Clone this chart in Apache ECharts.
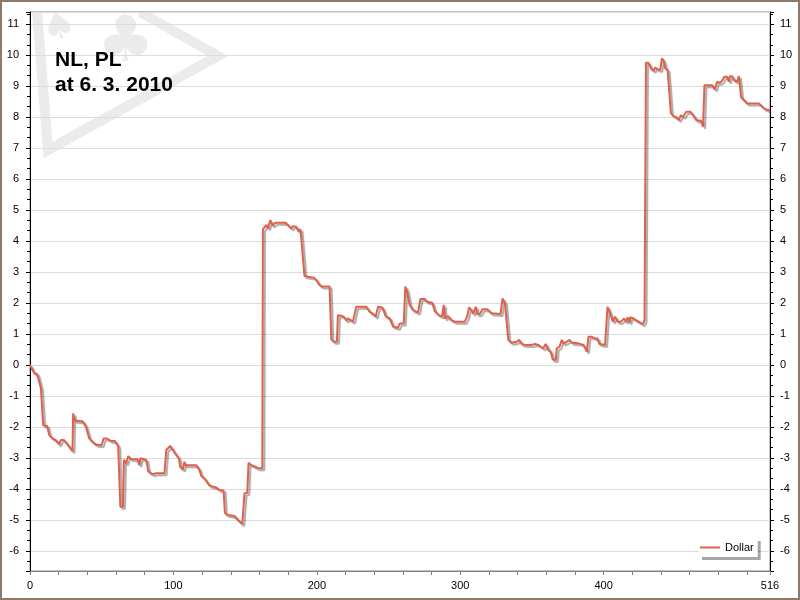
<!DOCTYPE html>
<html>
<head>
<meta charset="utf-8">
<script src="https://cdn.jsdelivr.net/npm/echarts@6/dist/echarts.min.js"></script>
<style>html,body{margin:0;padding:0;background:#fff;}#c{width:800px;height:600px;}</style>
</head>
<body>
<div id="c"></div>
<script>
// ---- data ----
const seriesName = 'Dollar';
const titleLine1 = 'NL, PL';
const titleLine2 = 'at 6. 3. 2010';
const xTickLabels = [0, 100, 200, 300, 400, 516];
const xs = [0,3,5,7.6,9.2,12,13.4,15.7,18,20.3,21.5,23.8,26,29.6,30.1,31.3,36.6,39,41.3,44.8,47,50,51.3,53.6,56,59.2,61.5,62.7,63,64.8,65.5,67,68.5,70.4,75,76.2,77,79.7,81.1,82.5,85.5,88,93.8,95,96.1,97.7,99.6,101.9,103.8,104.7,106.6,107.7,108.4,108.9,115.9,118.2,119.4,121.7,125.2,129.8,132.2,135,135.9,138,142.6,145,148,149.6,151.5,152.4,154.3,157.3,158.9,162,162.4,163.6,164.8,165.9,167.6,169,171.2,178.2,179.8,182.1,183.3,185.6,187.5,188.6,189.8,191.4,193.8,198,199.6,201.9,203.8,208.9,210.1,211.9,214,214.7,217.8,219.4,220.6,221.7,222.9,225.2,227.5,234.5,236.8,239.2,241,242.7,245.7,248.1,250.8,253.1,256.6,257.8,260.6,261.7,262.9,264.7,267.1,270.6,271.7,272.2,275.2,277,280.5,282.2,285,287.3,288.5,289.3,291.5,293.8,296.2,303.2,304.8,306.2,307.8,309,310.9,311.8,313.7,315.5,318.8,321.8,328.1,329.5,331.2,332.3,333.5,335.8,339.3,341.2,342.8,345.1,349.8,352.1,354.4,356.3,357.9,359.6,361.4,363.1,364.5,366.6,367.3,369.2,370.8,372,374.3,376.2,377.8,382.5,383.6,386,387.1,388.3,389.4,391.8,394.1,395.7,397.1,401,402.7,404.5,406.4,408,409.7,412,414.3,415.7,416.7,418.1,418.5,420.9,423.2,425.5,427.4,428.5,429.5,431.3,433,434.8,436,437.6,439.5,440.6,441.8,443,444.6,445.3,446.9,448.8,451.1,452.3,453.9,455.3,457.7,460.5,462.8,464.7,467.9,469.3,470.3,473.3,474.5,475.6,477.5,479.1,481,482.6,484.2,486.1,487.3,488,489.6,490.8,492,493.1,494.3,495.9,497.8,500.1,502.4,508.3,509.4,511.8,514.1,516];
const ys = [0,-0.27,-0.29,-0.75,-1.94,-1.97,-2.26,-2.37,-2.42,-2.56,-2.42,-2.42,-2.55,-2.78,-1.56,-1.8,-1.81,-1.99,-2.37,-2.53,-2.58,-2.58,-2.37,-2.37,-2.44,-2.45,-2.63,-2.69,-4.57,-4.57,-3.06,-3.17,-2.94,-3.03,-3.04,-3.23,-3.01,-3.04,-3.06,-3.44,-3.52,-3.49,-3.49,-2.74,-2.74,-2.61,-2.74,-2.9,-3.01,-3.28,-3.37,-3.12,-3.23,-3.2,-3.23,-3.39,-3.58,-3.66,-3.89,-3.95,-4.03,-4.05,-4.78,-4.84,-4.87,-5.0,-5.13,-4.14,-4.12,-3.15,-3.23,-3.28,-3.33,-3.33,4.38,4.41,4.52,4.41,4.68,4.5,4.59,4.59,4.52,4.41,4.48,4.46,4.3,4.38,4.35,2.87,2.85,2.82,2.74,2.58,2.53,2.53,0.83,0.75,0.75,1.61,1.58,1.53,1.43,1.51,1.45,1.4,1.88,1.88,1.72,1.65,1.56,1.88,1.86,1.56,1.51,1.24,1.2,1.34,1.34,2.53,2.37,1.94,1.77,1.69,1.65,2.13,2.13,2.04,2.01,1.74,1.61,1.57,1.94,1.5,1.58,1.45,1.4,1.4,1.56,1.86,1.77,1.65,1.88,1.65,1.65,1.8,1.8,1.67,1.65,2.15,1.99,1.94,0.81,0.72,0.75,0.81,0.68,0.65,0.65,0.68,0.65,0.59,0.54,0.68,0.48,0.43,0.18,0.16,0.54,0.59,0.81,0.7,0.75,0.81,0.72,0.7,0.65,0.65,0.59,0.43,0.91,0.91,0.86,0.86,0.68,0.65,1.88,1.67,1.4,1.56,1.4,1.4,1.5,1.4,1.54,1.37,1.54,1.5,1.43,1.37,1.32,1.45,9.75,9.75,9.57,9.49,9.6,9.54,9.52,9.89,9.82,9.57,9.52,9.46,8.12,8.03,7.99,7.9,8.06,8.01,8.17,8.17,8.03,7.9,7.88,7.69,9.03,9.03,8.98,9.03,8.89,9.14,9.11,9.17,9.3,9.3,9.14,9.32,9.32,9.19,9.25,9.14,9.32,8.63,8.55,8.44,8.44,8.44,8.49,8.28,8.23,8.23];
// ---------------------------------------

const data = xs.map((x, i) => [x, ys[i]]);
const chart = echarts.init(document.getElementById('c'), null, {renderer: 'canvas'});
const FONT = '"Liberation Sans", Arial, sans-serif';
const yMin = -6.645, yMax = 11.39;

function yAxisCfg(pos, margin) {
  return {
    type: 'value', position: pos, min: yMin, max: yMax, splitNumber: 18,
    axisLine: {show: true, onZero: false, lineStyle: {color: '#000', width: 1}},
    axisTick: {show: true, length: 4, lineStyle: {color: '#000'}},
    minorTick: {show: true, splitNumber: 3, length: 3, lineStyle: {color: '#000'}},
    axisLabel: {color: '#000', fontSize: 11, fontFamily: FONT, margin: margin, showMinLabel: false, showMaxLabel: false},
    splitLine: {show: pos === 'left', lineStyle: {color: '#dcdcdc', width: 1}}
  };
}

chart.setOption({
  animation: false,
  backgroundColor: '#fff',
  grid: {left: 30, right: 30, top: 12, bottom: 29, show: true, borderColor: '#888', borderWidth: 1, backgroundColor: 'transparent'},
  xAxis: {
    type: 'value', min: 0, max: 516, interval: 20,
    axisLine: {show: true, onZero: false, lineStyle: {color: '#808080'}},
    axisTick: {show: true, length: 4, lineStyle: {color: '#808080'}},
    axisLabel: {
      color: '#000', fontSize: 11, fontFamily: FONT, margin: 9, showMaxLabel: true,
      formatter: v => xTickLabels.indexOf(Math.round(v)) >= 0 ? String(Math.round(v)) : ''
    },
    splitLine: {show: false}
  },
  yAxis: [yAxisCfg('left', 11), yAxisCfg('right', 10)],
  legend: {
    left: 699, top: 538, orient: 'horizontal',
    padding: [4, 4, 4, 1],
    itemWidth: 20, itemHeight: 2, icon: 'rect', itemGap: 5,
    backgroundColor: '#fff',
    shadowColor: 'rgba(0,0,0,0.35)', shadowOffsetX: 3, shadowOffsetY: 3, shadowBlur: 0,
    textStyle: {color: '#000', fontSize: 11, fontFamily: FONT},
    data: [seriesName]
  },
  series: [{
    name: seriesName, type: 'line', data: data, yAxisIndex: 0,
    showSymbol: false, symbol: 'none',
    color: '#e0604a',
    lineStyle: {color: '#e0604a', width: 2, shadowColor: 'rgba(0,0,0,0.35)', shadowOffsetX: 2, shadowOffsetY: 2, shadowBlur: 1},
    z: 3
  }],
  graphic: [
    {type: 'polyline', z: -10, silent: true, shape: {points: [[37, 12], [48, 150], [218, 56], [140, 12]]},
     style: {stroke: '#ebebeb', lineWidth: 10, fill: null, lineJoin: 'miter'}},
    {type: 'text', z: -10, silent: true, left: 97, top: 12,
     style: {text: '\u2663', fill: '#ebebeb', font: '64px "DejaVu Sans"'}},
    {type: 'text', z: -10, silent: true, left: 38, top: 6, rotation: 0.25,
     style: {text: '\u2660', fill: '#ebebeb', font: '38px "DejaVu Sans"'}},
    {type: 'rect', z: -5, silent: true, shape: {x: 2, y: 1, width: 796, height: 10.5}, style: {fill: '#fff'}},
    {type: 'text', z: 10, left: 55, top: 50, style: {text: titleLine1, fill: '#000', font: 'bold 21px ' + FONT}},
    {type: 'text', z: 10, left: 55, top: 75, style: {text: titleLine2, fill: '#000', font: 'bold 21px ' + FONT}},
    {type: 'rect', z: 20, silent: true, shape: {x: 1, y: 1, width: 798, height: 598},
     style: {fill: null, stroke: '#8c7b6b', lineWidth: 2}}
  ]
});
</script>
</body>
</html>
